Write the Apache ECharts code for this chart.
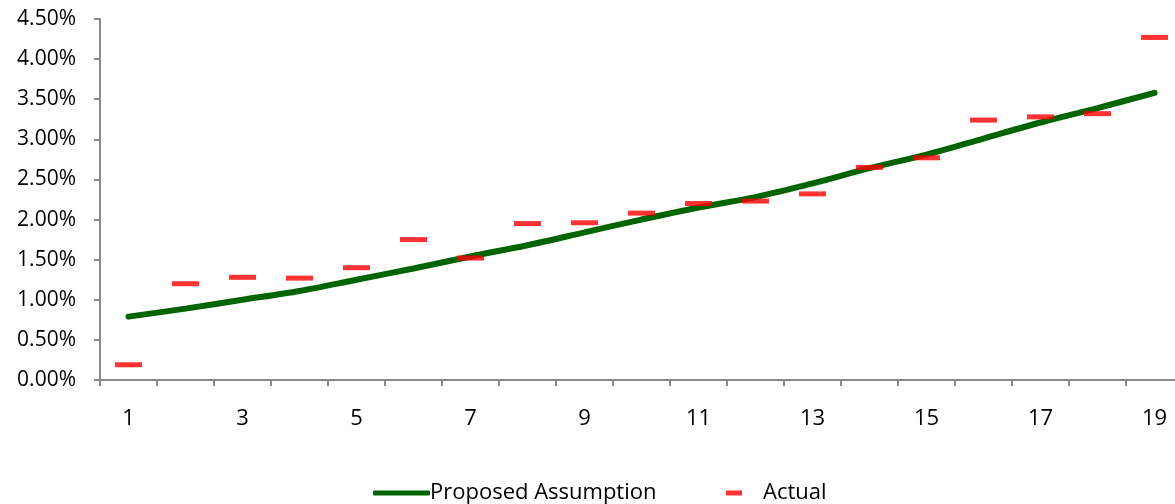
<!DOCTYPE html>
<html>
<head>
<meta charset="utf-8">
<script src="https://cdn.jsdelivr.net/npm/echarts@6/dist/echarts.min.js"></script>
<style>
html,body{margin:0;padding:0;background:#fff;overflow:hidden;}
#chart{width:1183px;height:504px;}
</style>
</head>
<body>
<div id="chart"></div>
<script>
var categories = ['1','2','3','4','5','6','7','8','9','10','11','12','13','14','15','16','17','18','19'];
var proposed = [0.79,0.89,1.00,1.11,1.25,1.39,1.54,1.68,1.84,2.00,2.15,2.28,2.45,2.64,2.81,3.01,3.21,3.39,3.58];
var actual = [0.19,1.20,1.28,1.27,1.40,1.75,1.52,1.95,1.96,2.08,2.20,2.23,2.32,2.65,2.77,3.24,3.28,3.32,4.27];
var yTickMin = 0, yTickMax = 4.5, yTickStep = 0.5;

var font = '"Open Sans", "Noto Sans", sans-serif';
var chart = echarts.init(document.getElementById('chart'));
chart.setOption({
  animation: false,
  backgroundColor: '#ffffff',
  grid: { left: 100, top: 19, width: 1083, height: 361, containLabel: false },
  xAxis: {
    type: 'category',
    data: categories,
    boundaryGap: true,
    axisLine: { lineStyle: { color: '#888888', width: 2 } },
    axisTick: { show: true, interval: 0, length: 6, lineStyle: { color: '#888888', width: 2 } },
    axisLabel: { interval: 1, color: '#000', fontFamily: font, fontSize: 22, margin: 28 },
    splitLine: { show: false }
  },
  yAxis: {
    type: 'value',
    min: yTickMin, max: yTickMax, interval: yTickStep,
    axisLine: { show: true, lineStyle: { color: '#888888', width: 2 } },
    axisTick: { show: true, length: 6, lineStyle: { color: '#888888', width: 2 } },
    axisLabel: { color: '#000', fontFamily: font, fontSize: 21, margin: 24,
      formatter: function (v) { return v.toFixed(2) + '%'; } },
    splitLine: { show: false }
  },
  legend: [
    {
      data: [{ name: 'Proposed Assumption', icon: 'roundRect' }],
      left: 368, top: 477,
      itemWidth: 57, itemHeight: 5,
      textStyle: { color: '#000', fontFamily: font, fontSize: 22, padding: [0, 0, 0, -5] }
    },
    {
      data: [{ name: 'Actual', icon: 'rect' }],
      left: 721, top: 477,
      itemWidth: 16, itemHeight: 5,
      textStyle: { color: '#000', fontFamily: font, fontSize: 22, padding: [0, 0, 0, 16] }
    }
  ],
  series: [
    {
      name: 'Proposed Assumption',
      type: 'line',
      data: proposed,
      smooth: 0.3,
      symbol: 'none',
      lineStyle: { color: '#006400', width: 6, cap: 'round' },
      itemStyle: { color: '#006400' },
      z: 2
    },
    {
      name: 'Actual',
      type: 'scatter',
      data: actual,
      symbol: 'rect',
      symbolSize: [27, 5],
      itemStyle: { color: '#ff0000' },
      z: 3
    }
  ]
});
</script>
</body>
</html>
